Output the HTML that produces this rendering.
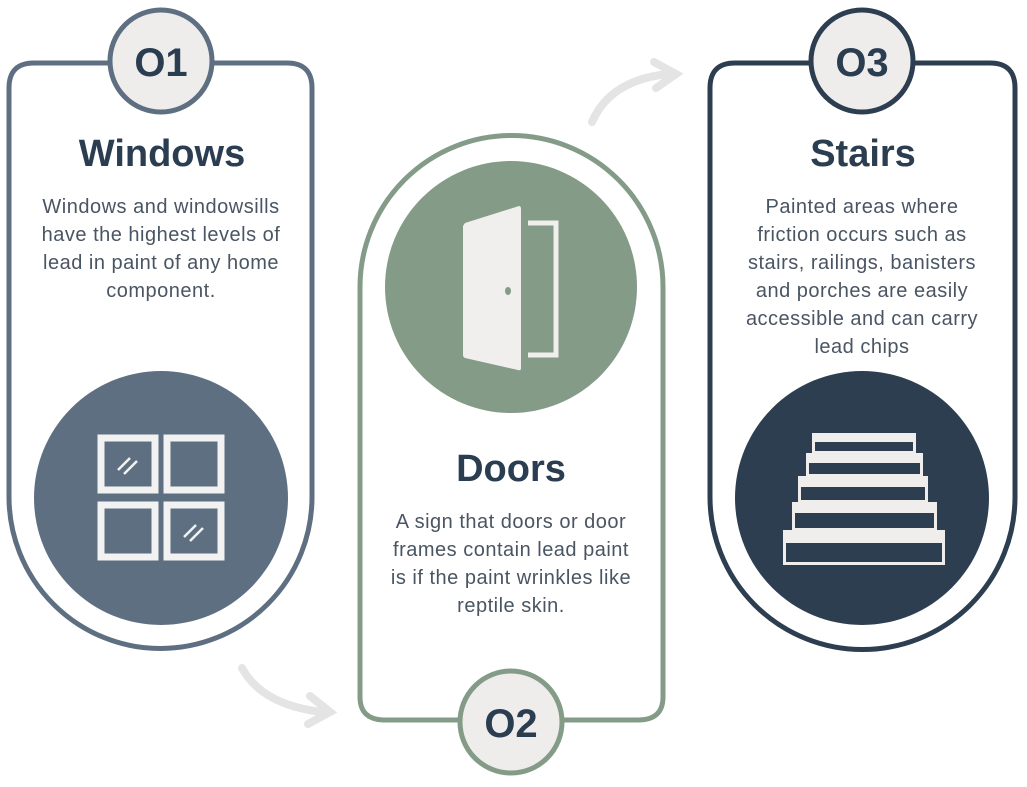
<!DOCTYPE html>
<html><head><style>
html,body{margin:0;padding:0;background:#fff;}
svg{display:block;}
text{font-family:"Liberation Sans",sans-serif;}
</style></head><body>
<svg width="1027" height="787" viewBox="0 0 1027 787" xmlns="http://www.w3.org/2000/svg">
<!-- arrows -->
<g fill="none" stroke="#e4e4e4" stroke-width="8" stroke-linecap="round">
<path d="M242 668 Q262 705 322 712"/>
<path d="M310 696 L330 712 L308 724"/>
<path d="M592 122 Q610 80 668 74"/>
<path d="M654 62 L676 74 L656 88"/>
</g>
<!-- Panel 1 -->
<path d="M9 88 Q9 63 34 63 L287 63 Q312 63 312 88 L312 497 A151.5 151.5 0 0 1 9 497 Z" fill="#fff" stroke="#5f6f82" stroke-width="5"/>
<circle cx="161" cy="61" r="51" fill="#eeedeb" stroke="#5f6f82" stroke-width="5"/>
<text x="161" y="76" text-anchor="middle" font-size="40" font-weight="bold" fill="#2b3d50">O1</text>
<text x="162" y="166" text-anchor="middle" font-size="38" font-weight="bold" fill="#2b3d50">Windows</text>
<g font-size="20" letter-spacing="0.5" fill="#4a5563" text-anchor="middle">
<text x="161" y="213">Windows and windowsills</text>
<text x="161" y="241">have the highest levels of</text>
<text x="161" y="269">lead in paint of any home</text>
<text x="161" y="297">component.</text>
</g>
<circle cx="161" cy="498" r="127" fill="#5f6f82"/>
<g fill="none" stroke="#f2f2f2" stroke-width="7">
<rect x="101" y="438" width="54" height="52"/>
<rect x="167" y="438" width="54" height="52"/>
<rect x="101" y="505" width="54" height="52"/>
<rect x="167" y="505" width="54" height="52"/>
</g>
<g stroke="#f2f2f2" stroke-width="2.5">
<path d="M118 470 L130 458 M124 474 L137 461"/>
<path d="M184 537 L196 525 M190 541 L203 528"/>
</g>
<!-- Panel 2 -->
<path d="M360 287 A151.5 151.5 0 0 1 663 287 L663 697 Q663 720 638 720 L385 720 Q360 720 360 697 Z" fill="#fff" stroke="#849b88" stroke-width="5"/>
<circle cx="511" cy="287" r="126" fill="#849b88"/>
<path d="M465 223 L519 206 Q521 206 521 209 L521 368 Q521 371 518 370 L465 358 Q463 357 463 355 L463 226 Z" fill="#f0efed"/>
<path d="M528 223 L556 223 L556 355 L528 355" fill="none" stroke="#f0efed" stroke-width="5"/>
<ellipse cx="508" cy="291" rx="3" ry="4" fill="#849b88"/>
<text x="511" y="481" text-anchor="middle" font-size="38" font-weight="bold" fill="#2b3d50">Doors</text>
<g font-size="20" letter-spacing="0.5" fill="#4a5563" text-anchor="middle">
<text x="511" y="528">A sign that doors or door</text>
<text x="511" y="556">frames contain lead paint</text>
<text x="511" y="584">is if the paint wrinkles like</text>
<text x="511" y="612">reptile skin.</text>
</g>
<circle cx="511" cy="722" r="51" fill="#eeedeb" stroke="#849b88" stroke-width="5"/>
<text x="511" y="737" text-anchor="middle" font-size="40" font-weight="bold" fill="#2b3d50">O2</text>
<!-- Panel 3 -->
<path d="M710 88 Q710 63 735 63 L990 63 Q1015 63 1015 88 L1015 497 A152.5 152.5 0 0 1 710 497 Z" fill="#fff" stroke="#2d3e50" stroke-width="5"/>
<circle cx="862" cy="61" r="51" fill="#eeedeb" stroke="#2d3e50" stroke-width="5"/>
<text x="862" y="76" text-anchor="middle" font-size="40" font-weight="bold" fill="#2b3d50">O3</text>
<text x="863" y="166" text-anchor="middle" font-size="38" font-weight="bold" fill="#2b3d50">Stairs</text>
<g font-size="20" letter-spacing="0.5" fill="#4a5563" text-anchor="middle">
<text x="862" y="213">Painted areas where</text>
<text x="862" y="241">friction occurs such as</text>
<text x="862" y="269">stairs, railings, banisters</text>
<text x="862" y="297">and porches are easily</text>
<text x="862" y="325">accessible and can carry</text>
<text x="862" y="353">lead chips</text>
</g>
<circle cx="862" cy="498" r="127" fill="#2d3e50"/>
<g fill="#efeeec">
<rect x="812" y="433" width="104" height="21"/>
<rect x="806" y="453" width="117" height="24"/>
<rect x="798" y="476" width="130" height="27"/>
<rect x="792" y="502" width="145" height="29"/>
<rect x="783" y="530" width="162" height="35"/>
</g>
<g fill="#2d3e50">
<rect x="815" y="442" width="98" height="9"/>
<rect x="809" y="463" width="111" height="11"/>
<rect x="801" y="487" width="124" height="13"/>
<rect x="795" y="513" width="139" height="15"/>
<rect x="786" y="543" width="156" height="19"/>
</g>
</svg>
</body></html>
